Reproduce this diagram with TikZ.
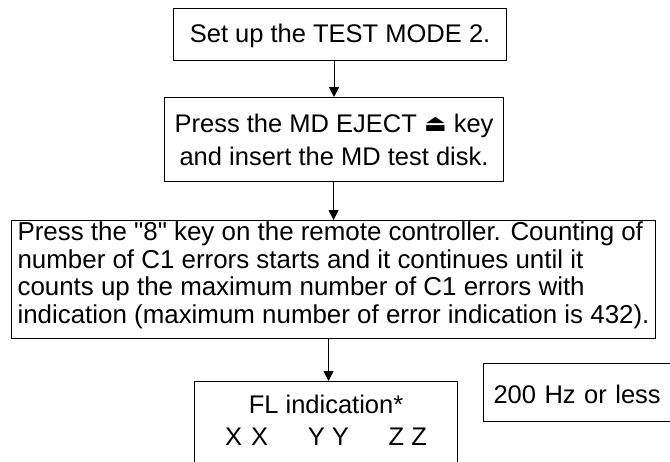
\documentclass[tikz,border=0pt]{standalone}
\usepackage{fontspec}
\setmainfont{Liberation Sans}
\newfontfamily\ejectfont{DejaVu Sans}
\usetikzlibrary{arrows.meta}
\begin{document}
\begin{tikzpicture}[x=1pt, y=-1pt, line width=1.1pt,
  box/.style={draw, anchor=north west, inner xsep=0pt, inner ysep=0pt, font=\fontsize{25.5}{33}\selectfont},
  >={Triangle[length=10pt, width=10pt]}]
\useasboundingbox (0,0) rectangle (670,461);
\clip (0,0) rectangle (670,461);
\node[box, align=center, minimum width=333pt, text height=34pt, text depth=18pt] (a) at (173,8) {Set up the TEST MODE 2.};
\node[box, align=center, minimum width=339pt, text height=68pt, text depth=16pt] (b) at (164,97) {Press the MD EJECT {\ejectfont\fontsize{24}{24}\selectfont\raisebox{1pt}{⏏}} key\\and insert the MD test disk.};
\node[box, align=left, minimum width=644pt, text height=103pt, text depth=15pt, font=\fontsize{25.9}{27.7}\selectfont] (c) at (11,220) {Press the \textquotedbl 8\textquotedbl{} key on the remote controller. Counting of\\number of C1 errors starts and it continues until it\\counts up the maximum number of C1 errors with\\indication (maximum number of error indication is 432).};
\node[box, align=center, minimum width=263pt, text height=64pt, text depth=60pt, font=\fontsize{25.5}{32}\selectfont] (d) at (194,381) {FL indication*\\X\hspace{9pt}X\ \quad\ Y Y\ \quad\ Z Z};
\node[box, align=left, text width=240pt, inner xsep=10pt, text height=40pt, text depth=18pt] (e) at (483,363) {200 Hz or less};
\draw[->] (b.north |- a.south) -- (b.north);
\draw[->] (c.north |- b.south) -- (c.north);
\draw[->] ([xshift=2.5pt]d.north |- c.south) -- ([xshift=2.5pt]d.north);
\end{tikzpicture}
\end{document}
